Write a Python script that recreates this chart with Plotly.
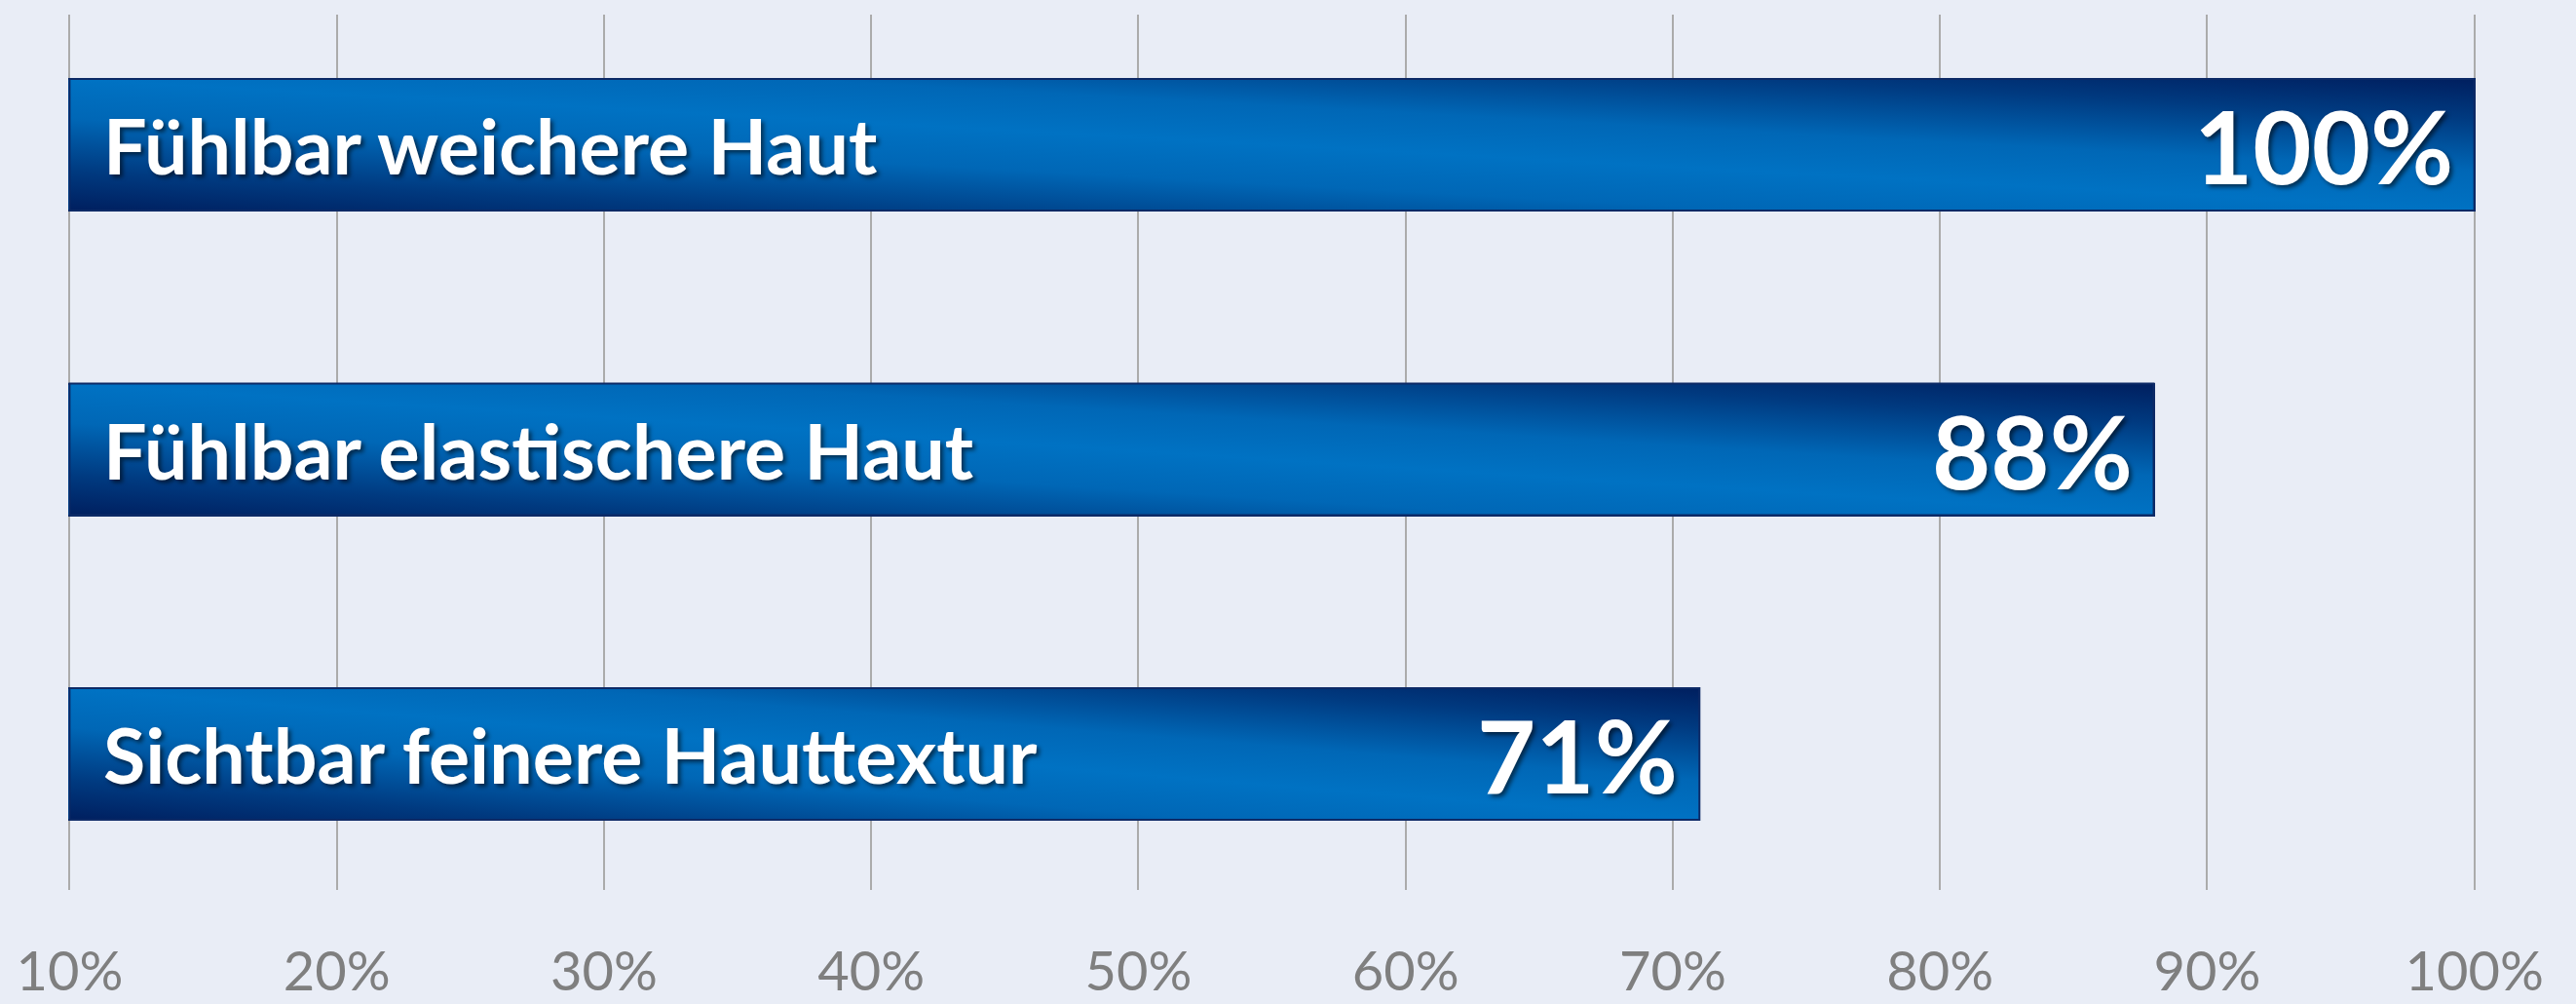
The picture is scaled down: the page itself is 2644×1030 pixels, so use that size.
import base64
import plotly.graph_objects as go

# ---- data (top to bottom as shown) ----
categories = ["Fühlbar weichere Haut", "Fühlbar elastischere Haut", "Sichtbar feinere Hauttextur"]
values = [100, 88, 71]
tick_values = [10, 20, 30, 40, 50, 60, 70, 80, 90, 100]
tick_labels = ["10%", "20%", "30%", "40%", "50%", "60%", "70%", "80%", "90%", "100%"]
axis_min, axis_max = 10, 100

# plotly category axes go bottom-up, so order bottom first
order = list(reversed(categories))
idx = {c: order.index(c) for c in categories}

BAR_W = 0.432
FONT = "Lato, 'Open Sans', sans-serif"

svg = """<svg xmlns="http://www.w3.org/2000/svg" width="100" height="100" viewBox="0 0 100 100" preserveAspectRatio="none">
<defs><linearGradient id="g" x1="0" y1="1" x2="1" y2="0">
<stop offset="0" stop-color="#001f5f"/>
<stop offset="0.15" stop-color="#003a80"/>
<stop offset="0.35" stop-color="#0067b6"/>
<stop offset="0.5" stop-color="#0072c3"/>
<stop offset="0.65" stop-color="#0067b6"/>
<stop offset="0.85" stop-color="#003a80"/>
<stop offset="1" stop-color="#001f5f"/>
</linearGradient></defs>
<rect x="0" y="0" width="100" height="100" fill="url(#g)"/>
</svg>"""
src = "data:image/svg+xml;base64," + base64.b64encode(svg.encode()).decode()

fig = go.Figure()
fig.add_trace(go.Bar(
    x=values, y=categories, orientation="h", width=BAR_W,
    marker=dict(color="#0068b8", line=dict(color="#0d2a66", width=2)),
    hoverinfo="x+y", showlegend=False,
))

images = []
annotations = []
shapes = []
shadow = "3px 3px 4px rgba(0,0,0,0.55)"
for c, v in zip(categories, values):
    images.append(dict(
        source=src, xref="x", yref="y", x=axis_min, y=idx[c] + BAR_W / 2,
        sizex=v - axis_min, sizey=BAR_W, xanchor="left", yanchor="top",
        sizing="stretch", layer="above",
    ))
    shapes.append(dict(
        type="rect", xref="x", yref="y", x0=axis_min, x1=v,
        y0=idx[c] - BAR_W / 2, y1=idx[c] + BAR_W / 2,
        line=dict(color="#0d2a66", width=2), fillcolor="rgba(0,0,0,0)", layer="above",
    ))
    annotations.append(dict(
        x=axis_min, y=idx[c], xref="x", yref="y", text=c, showarrow=False,
        xanchor="left", yanchor="middle", xshift=33,
        font=dict(family=FONT, size=79, color="white", weight="bold", shadow=shadow),
    ))
    annotations.append(dict(
        x=v, y=idx[c], xref="x", yref="y", text=f"{v}%", showarrow=False,
        xanchor="right", yanchor="middle", xshift=-20,
        font=dict(family=FONT, size=104, color="white", weight="bold", shadow=shadow),
    ))

fig.update_layout(
    width=2644, height=1030,
    margin=dict(l=70, r=103, t=15, b=117, autoexpand=False),
    paper_bgcolor="#e9edf6", plot_bgcolor="#e9edf6",
    images=images, annotations=annotations, shapes=shapes,
    bargap=0,
)
fig.update_xaxes(
    range=[axis_min - 0.05, axis_max + 0.05], tickvals=tick_values, ticktext=tick_labels,
    showgrid=True, gridcolor="#ababab", gridwidth=1.5,
    zeroline=False, showline=False, ticks="", automargin=False,
    tickfont=dict(family=FONT, size=56, color="#7f7f7f"),
    ticklabelstandoff=46,
)
fig.update_yaxes(
    categoryorder="array", categoryarray=order,
    range=[-0.4464, 2.4272], showticklabels=False, showgrid=False,
    zeroline=False, showline=False, automargin=False,
)

fig.write_html(
    "out.html",
    config={"displayModeBar": False},
    post_script="document.body.style.margin='0';document.body.style.overflow='hidden';",
)
